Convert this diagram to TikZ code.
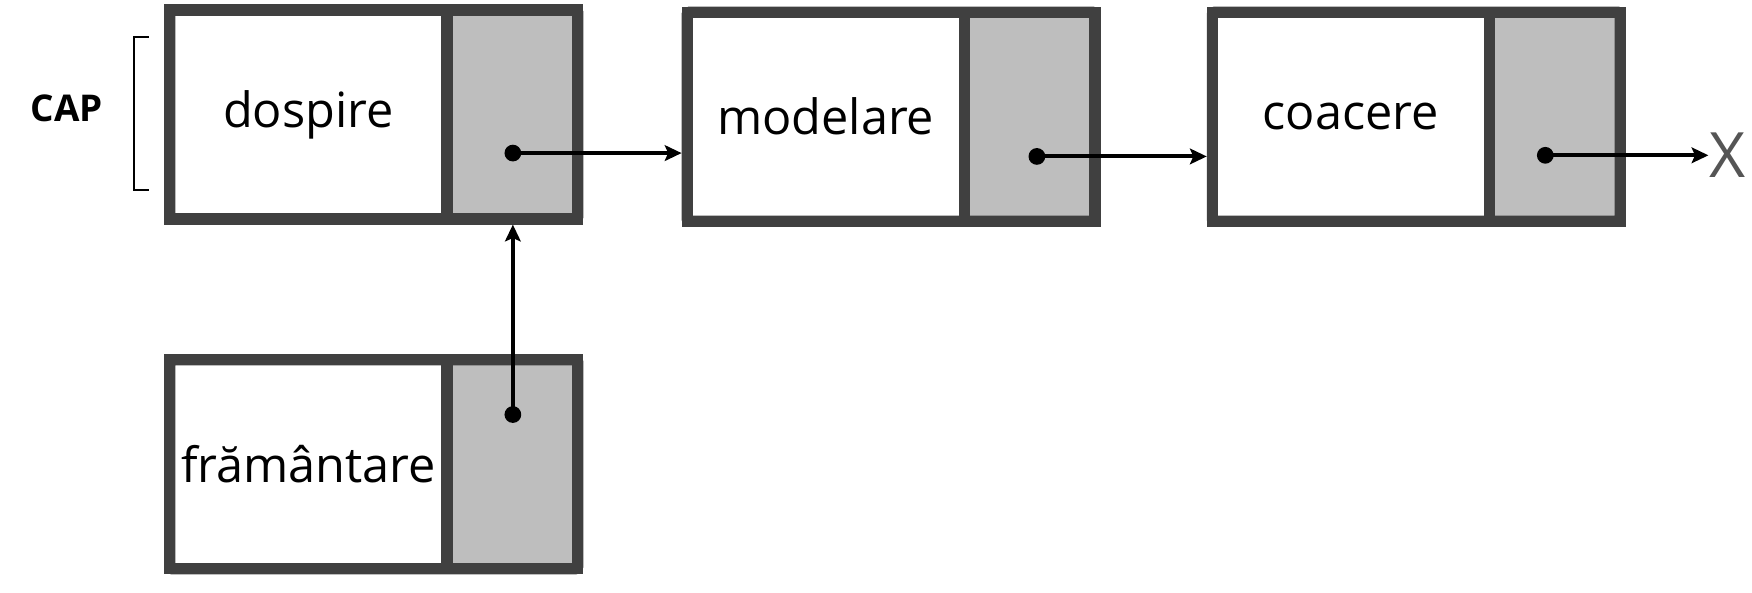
\documentclass[tikz,border=0pt]{standalone}
\usepackage{fontspec}
\setmainfont{Open Sans}
\usetikzlibrary{arrows.meta,calc}
\definecolor{boxborder}{HTML}{404040}
\definecolor{ptrfill}{HTML}{BEBEBE}
\definecolor{xgray}{HTML}{555555}
\tikzset{
  datacell/.style={draw=boxborder, line width=10pt, fill=white, inner sep=0pt, outer sep=0pt,
    minimum width=248pt, minimum height=187pt, anchor=north west,
    font=\fontsize{43.5}{50}\selectfont, text=black},
  ptrcell/.style={draw=boxborder, line width=10pt, fill=ptrfill, inner sep=0pt, outer sep=0pt,
    minimum width=117pt, minimum height=187pt, anchor=north west},
  ptrdot/.style={circle, fill=black, inner sep=0pt, minimum size=15pt},
  link/.style={line width=3.5pt, -{Stealth[length=15pt,width=14pt,inset=3pt]}, shorten >=5pt},
}
\begin{document}
\begin{tikzpicture}[x=1pt,y=-1pt]
\useasboundingbox (0,0) rectangle (1568,530);
% box 1
\node[datacell] (w1) at (152,9) {dospire};
\node[ptrcell] (p1) at (w1.north east) {};
% box 2
\node[datacell] (w2) at (615,11) {modelare};
\node[ptrcell] (p2) at (w2.north east) {};
% box 3
\node[datacell] (w3) at (1085,11) {coacere};
\node[ptrcell] (p3) at (w3.north east) {};
% box 4
\node[datacell] (w4) at (152,322) {frământare};
\node[ptrcell] (p4) at (w4.north east) {};
% outer frames with slightly rounded corners
\foreach \w/\p in {w1/p1,w2/p2,w3/p3,w4/p4}{
  \draw[boxborder, line width=10pt, rounded corners=2pt] (\w.north west) rectangle (\p.south east);
}
% dots
\node[ptrdot] (d1) at (459,137) {};
\node[ptrdot] (d2) at (928,140) {};
\node[ptrdot] (d3) at (1383,139) {};
\node[ptrdot] (d4) at (459,371) {};
% end marker
\node[text=xgray, font=\fontsize{56}{60}\selectfont, inner sep=0pt, anchor=west] (x) at (1530,139) {X};
% links
\draw[link] (d1.center) -- (d1.center -| w2.west);
\draw[link] (d2.center) -- (d2.center -| w3.west);
\draw[link, shorten >=1pt] (d3.center) -- (x.west);
\draw[link] (d4.center) -- (d4.center |- p1.south);
% CAP label and bracket
\node[font=\bfseries\fontsize{33}{40}\selectfont, inner sep=0pt] (cap) at (60,97) {CAP};
\coordinate (bt) at (133,33);
\coordinate (bb) at (133,170);
\draw[line width=1.5pt] (bt) -- ++(-13,0) -- ($(bb)+(-13,0)$) -- (bb);
\end{tikzpicture}
\end{document}
